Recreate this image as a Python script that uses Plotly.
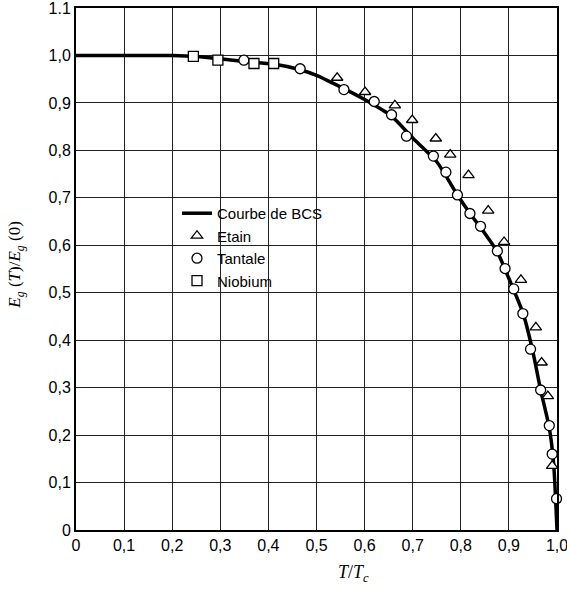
import plotly.graph_objects as go

# BCS curve
bcs_x = [0.0, 0.1, 0.2, 0.25, 0.3, 0.35, 0.41, 0.466, 0.5, 0.557, 0.6, 0.656, 0.7,
         0.75, 0.793, 0.82, 0.85, 0.876, 0.9, 0.93, 0.95, 0.966, 0.984, 0.993, 1.0]
bcs_y = [1.0, 1.0, 1.0, 0.998, 0.993, 0.987, 0.982, 0.970, 0.958, 0.930, 0.907, 0.872, 0.826,
         0.776, 0.706, 0.666, 0.625, 0.586, 0.530, 0.455, 0.375, 0.295, 0.215, 0.14, 0.0]

# Etain (tin)
sn_x = [0.543, 0.601, 0.663, 0.699, 0.748, 0.778, 0.816, 0.857, 0.890, 0.925, 0.956, 0.968, 0.981, 0.990]
sn_y = [0.953, 0.923, 0.895, 0.864, 0.825, 0.791, 0.748, 0.673, 0.607, 0.527, 0.427, 0.353, 0.282, 0.135]

# Tantale (tantalum)
ta_x = [0.349, 0.466, 0.557, 0.620, 0.656, 0.687, 0.743, 0.769, 0.793, 0.819, 0.841, 0.876,
        0.892, 0.910, 0.929, 0.945, 0.966, 0.984, 0.990, 0.999]
ta_y = [0.990, 0.972, 0.928, 0.903, 0.875, 0.830, 0.788, 0.754, 0.706, 0.667, 0.640, 0.588,
        0.551, 0.508, 0.456, 0.381, 0.295, 0.220, 0.160, 0.066]

# Niobium
nb_x = [0.244, 0.295, 0.370, 0.411]
nb_y = [0.998, 0.990, 0.983, 0.983]

x_ticks = [0, 0.1, 0.2, 0.3, 0.4, 0.5, 0.6, 0.7, 0.8, 0.9, 1.0]
x_labels = ["0", "0,1", "0,2", "0,3", "0,4", "0,5", "0,6", "0,7", "0,8", "0,9", "1,0"]
y_ticks = [0, 0.1, 0.2, 0.3, 0.4, 0.5, 0.6, 0.7, 0.8, 0.9, 1.0, 1.1]
y_labels = ["0", "0,1", "0,2", "0,3", "0,4", "0,5", "0,6", "0,7", "0,8", "0,9", "1,0", "1.1"]

fig = go.Figure()
fig.add_trace(go.Scatter(x=bcs_x, y=bcs_y, mode="lines", name="Courbe de BCS",
                         line=dict(color="black", width=3.5, shape="spline", smoothing=0.6),
                         cliponaxis=False))
mk = dict(color="white", size=10, line=dict(color="black", width=1.3))
fig.add_trace(go.Scatter(x=sn_x, y=sn_y, mode="markers", name="Etain",
                         marker=dict(symbol="triangle-up", **mk), cliponaxis=False))
fig.add_trace(go.Scatter(x=ta_x, y=ta_y, mode="markers", name="Tantale",
                         marker=dict(symbol="circle", **mk), cliponaxis=False))
fig.add_trace(go.Scatter(x=nb_x, y=nb_y, mode="markers", name="Niobium",
                         marker=dict(symbol="square", **mk), cliponaxis=False))

axis_common = dict(showgrid=True, gridcolor="#222", gridwidth=1, zeroline=False,
                   showline=True, linecolor="black", linewidth=2, mirror=True,
                   ticks="", ticklabeloverflow="allow", automargin=False,
                   tickfont=dict(family="Liberation Sans, Arial", size=16, color="black"))

fig.update_layout(
    width=567, height=592,
    margin=dict(l=76, r=10, t=8, b=62),
    paper_bgcolor="white", plot_bgcolor="white",
    xaxis=dict(range=[0, 1.0], tickvals=x_ticks, ticktext=x_labels, **axis_common),
    yaxis=dict(range=[0, 1.1], tickvals=y_ticks, ticktext=y_labels, **axis_common),
    legend=dict(x=0.21, y=0.638, xanchor="left", yanchor="top", bgcolor="rgba(0,0,0,0)",
                font=dict(family="Liberation Sans, Arial", size=15, color="black"),
                tracegroupgap=0),
    showlegend=True,
    annotations=[
        dict(text="<i>T</i>/<i>T</i><sub><i>c</i></sub>", xref="paper", yref="paper",
             x=0.576, y=-0.083, showarrow=False, xanchor="center", yanchor="middle",
             font=dict(family="Liberation Serif, DejaVu Serif", size=18, color="black")),
        dict(text="<i>E</i><sub><i>g</i></sub> (<i>T</i>)/<i>E</i><sub><i>g</i></sub> (0)",
             xref="paper", yref="paper", x=-0.125, y=0.508, showarrow=False, textangle=-90,
             xanchor="center", yanchor="middle",
             font=dict(family="Liberation Serif, DejaVu Serif", size=17, color="black")),
    ],
)

fig.write_html("out.html")
